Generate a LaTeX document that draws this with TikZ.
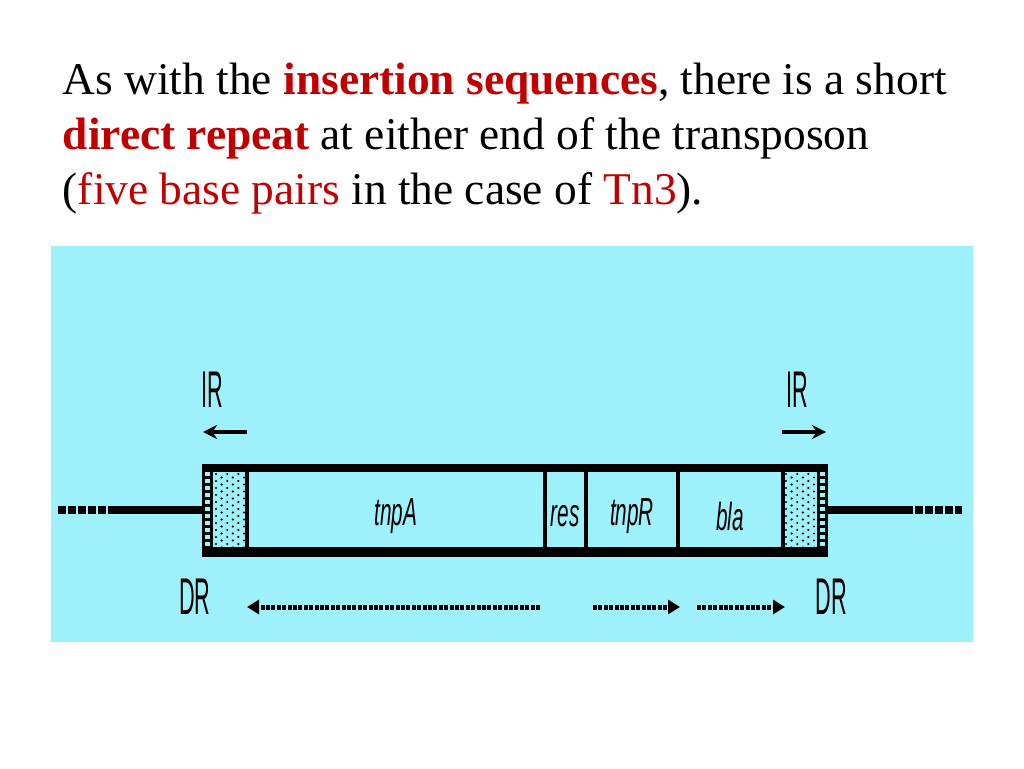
\documentclass[tikz,border=0pt]{standalone}
\usepackage{fontspec}
\setmainfont{Liberation Serif}
\newfontfamily\markerfont[FakeStretch=0.42]{Liberation Sans}
\newfontfamily\genefont[FakeStretch=0.53]{Liberation Sans}
\usetikzlibrary{arrows.meta}
\definecolor{panelcyan}{RGB}{158,240,250}
\definecolor{keyred}{RGB}{192,0,0}
\tikzset{
  caption/.style={anchor=base west,inner sep=0pt,font=\fontsize{11.35}{13.75}\selectfont},
  marker/.style={inner sep=0pt,font=\markerfont\fontsize{12.9}{13}\selectfont},
  gene/.style={inner sep=0pt,font=\genefont\itshape\fontsize{9.8}{10}\selectfont},
  dnaline/.style={line width=2pt},
  readarrow/.style={line width=1.25pt,dash pattern=on 1pt off 0.35pt,-{Triangle[length=3pt,width=3.5pt]}},
}
\begin{document}
\begin{tikzpicture}[x=0.25pt,y=-0.25pt,>={Stealth[length=3.5pt,width=3.5pt]}]
  \useasboundingbox (0,0) rectangle (1024,768);
  \node[caption] (line1) at (62,95) {As with the \textcolor{keyred}{\textbf{insertion sequences}}, there is a short};
  \node[caption] (line2) at (62,150) {\textcolor{keyred}{\textbf{direct repeat}} at either end of the transposon};
  \node[caption] (line3) at (62,205) {(\textcolor{keyred}{five base pairs} in the case of \textcolor{keyred}{Tn3}).};
  %
  \fill[panelcyan] (51,246) rectangle (973,642);
  % dotted IR regions
  \foreach \xa in {213,783} {
    \foreach \i in {0,...,5} {
      \pgfmathsetmacro{\dy}{474+mod(\i,2)*3.5}
      \foreach \j in {0,...,10}
        \fill (\xa+3+\i*5.6,\dy+\j*7) circle (1.2);
    }
  }
  % transposon body
  \draw[dnaline] (202,468) -- (827,468);
  \draw[line width=2.3pt] (202,552) -- (827,552);
  \foreach \xd in {247,545,586,678,783}
    \draw[line width=0.8pt] (\xd,468) -- (\xd,552);
  \foreach \xs in {202,817} {
    \fill (\xs,464) rectangle +(10.5,93);
    \foreach \yh in {472,479,...,542}
      \fill[panelcyan] (\xs+3,\yh) rectangle +(4.5,4);
  }
  % flanking DNA
  \draw[dnaline] (113,510) -- (202,510);
  \draw[dnaline,dash pattern=on 1.9pt off 0.6pt] (58,510) -- (113,510);
  \draw[dnaline] (827,510) -- (905,510);
  \draw[dnaline,dash pattern=on 1.9pt off 0.6pt] (905,510) -- (962,510);
  %
  \node[gene] (tnpA) at (396,516) {tnpA};
  \node[gene] (res) at (565,516) {res};
  \node[gene] (tnpR) at (632,516) {tnpR};
  \node[gene] (bla) at (730,516) {bla};
  %
  \node[marker] (IRleft) at (212,390) {IR};
  \node[marker] (IRright) at (797,390) {IR};
  \draw[->,line width=1pt] (247,432) -- (203,432);
  \draw[->,line width=1pt] (782,432) -- (826,432);
  \node[marker] (DRleft) at (195,597) {DR};
  \node[marker] (DRright) at (831,597) {DR};
  \draw[readarrow] (540,607) -- (247,607);
  \draw[readarrow] (593,607) -- (680,607);
  \draw[readarrow] (697,607) -- (785,607);
\end{tikzpicture}
\end{document}
